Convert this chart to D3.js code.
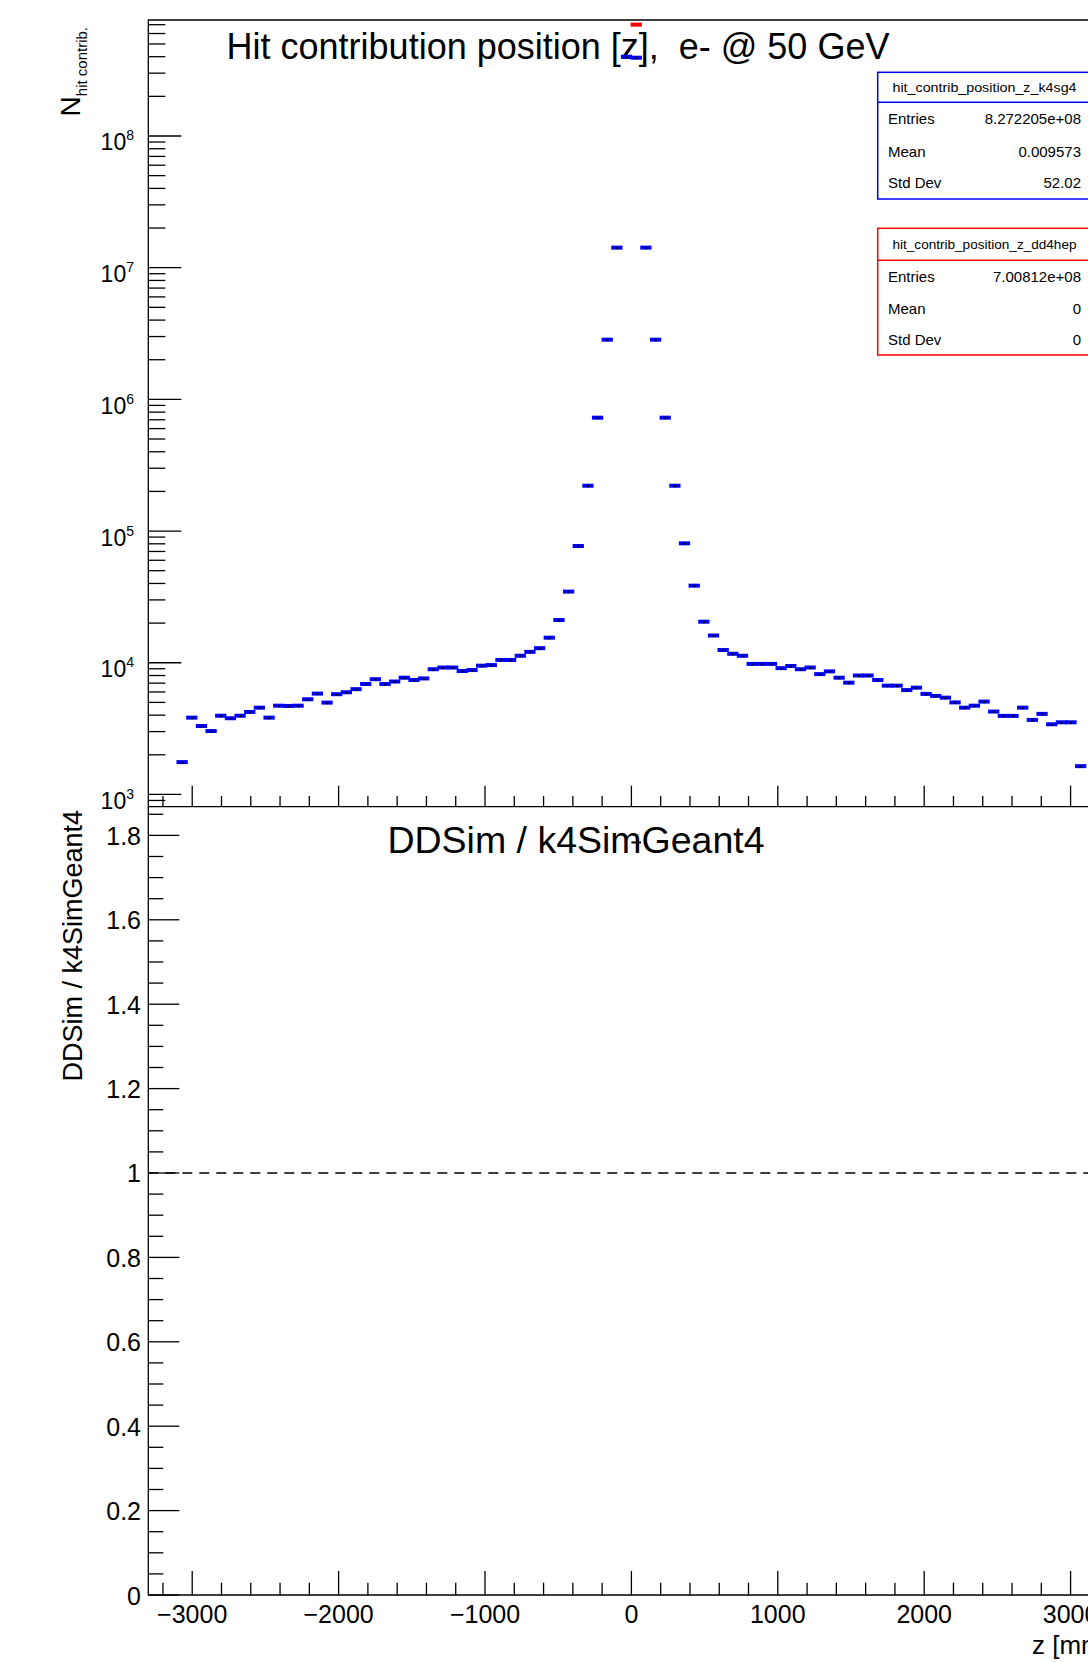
<!DOCTYPE html>
<html><head><meta charset="utf-8">
<script src="https://cdn.jsdelivr.net/npm/d3@7/dist/d3.min.js"></script>
<style>
body{margin:0;background:#fff;}
svg{display:block;}
text{font-family:"Liberation Sans",Arial,Helvetica,sans-serif;fill:#000;white-space:pre;}
</style>
</head><body>
<svg id="c" width="1088" height="1662"></svg>
<script>
// ---------- data ----------
const nBins = 100, zMin = -3300, zMax = 3300;
// k4SimGeant4 histogram contents, bin by bin (null = empty bin)
const k4sg4Counts = [
  null, null, null, 1760, 3830, 3310, 3030, 3960, 3790, 3960,
  4230, 4560, 3830, 4720, 4700, 4720, 5280, 5830, 4980, 5770,
  5970, 6300, 6900, 7500, 6900, 7200, 7700, 7400, 7600, 8930,
  9200, 9200, 8650, 8800, 9500, 9600, 10500, 10500, 11300, 12100,
  12900, 15500, 21100, 34700, 77000, 221000, 726000, 2840000, 14200000, 400000000,
  393000000, 14200000, 2840000, 726000, 221000, 80700, 38500, 20500, 16100, 12500,
  11700, 11300, 9800, 9800, 9800, 9100, 9450, 8930, 9200, 8200,
  8600, 7700, 7060, 8000, 8000, 7400, 6700, 6700, 6200, 6470,
  5800, 5600, 5430, 5000, 4560, 4720, 5070, 4260, 3950, 3950,
  4560, 3680, 4090, 3410, 3530, 3530, 1640, null, null, null
];
// DD4hep histogram: all entries in one bin
const dd4hepBins = [50];
const dd4hepCounts = [7.00812e8];

const xTickValues = [-3000, -2000, -1000, 0, 1000, 2000, 3000];
const logDecades = [3, 4, 5, 6, 7, 8];
const ratioTickValues = [0, 0.2, 0.4, 0.6, 0.8, 1, 1.2, 1.4, 1.6, 1.8];

const statsLabels = ["Entries", "Mean", "Std Dev"];
const k4Stats = ["8.272205e+08", "0.009573", "52.02"];
const ddStats = ["7.00812e+08", "0", "0"];
const k4Name = "hit_contrib_position_z_k4sg4";
const ddName = "hit_contrib_position_z_dd4hep";

const mainTitle = "Hit contribution position [z],  e- @ 50 GeV";
const ratioTitle = "DDSim / k4SimGeant4";
const xTitle = "z [mm]";

// ---------- layout ----------
const svg = d3.select("#c");
const L = 148.3, R = 1114.5;
const top1 = 20, bot1 = 806.7, bot2 = 1595;
const BLUE = "#0000ff", RED = "#ff0000";

const x = d3.scaleLinear().domain([zMin, zMax]).range([L, R]);
const y1 = d3.scaleLog().domain([807, 7.6e8]).range([bot1, top1]);
const y2 = d3.scaleLinear().domain([0, 1.868]).range([bot2, bot1]);
const bw = (zMax - zMin) / nBins;
const binLo = i => zMin + i * bw;

const g = svg.append("g");

// main title (drawn below the markers)
g.append("text").attr("x", 558).attr("y", 59).attr("text-anchor", "middle")
  .attr("font-size", 36).attr("xml:space", "preserve").text(mainTitle);
// ratio title
g.append("text").attr("x", 576).attr("y", 853).attr("text-anchor", "middle")
  .attr("font-size", 37.5).text(ratioTitle);

// ---------- upper pad: data ----------
const k4Data = k4sg4Counts.map((v, i) => ({i, v})).filter(d => d.v !== null && d.v > 0);
const ptsB = g.append("g");
ptsB.selectAll("rect.b").data(k4Data).enter().append("rect")
  .attr("x", d => x(binLo(d.i)) - 0.8)
  .attr("width", d => x(binLo(d.i + 1)) - x(binLo(d.i)) + 1.6)
  .attr("y", d => y1(d.v) - 2)
  .attr("height", 4)
  .attr("fill", BLUE);
ptsB.selectAll("rect.m").data(k4Data).enter().append("rect")
  .attr("x", d => x(binLo(d.i) + bw / 2) - 1)
  .attr("width", 2)
  .attr("y", d => y1(d.v) - 0.5)
  .attr("height", 2)
  .attr("fill", "#000");

const ddData = dd4hepBins.map((b, k) => ({i: b, v: dd4hepCounts[k]}));
g.append("g").selectAll("rect").data(ddData).enter().append("rect")
  .attr("x", d => x(binLo(d.i)) - 0.8)
  .attr("width", d => x(binLo(d.i + 1)) - x(binLo(d.i)) + 1.6)
  .attr("y", d => y1(d.v) - 2)
  .attr("height", 4)
  .attr("fill", RED);

// ---------- upper pad: axes ----------
const ax = g.append("g").attr("stroke", "#000").attr("stroke-width", 1.3).attr("fill", "none");
ax.append("path").attr("d", `M${L},${bot1}V${top1}H${R}`);
ax.append("line").attr("x1", L).attr("x2", R).attr("y1", bot1).attr("y2", bot1);

const yMajor = logDecades.map(d => Math.pow(10, d));
const yMinor = [];
for (let e = 2; e <= 8; e++) for (let m = 2; m <= 9; m++) {
  const v = m * Math.pow(10, e);
  if (v >= 807 && v <= 7.6e8) yMinor.push(v);
}
ax.selectAll("line.ymaj").data(yMajor).enter().append("line")
  .attr("x1", L).attr("x2", L + 33).attr("y1", d => y1(d)).attr("y2", d => y1(d));
ax.selectAll("line.ymin").data(yMinor).enter().append("line")
  .attr("x1", L).attr("x2", L + 17).attr("y1", d => y1(d)).attr("y2", d => y1(d));

const xMinor = d3.range(-3200, 3301, 200).filter(v => v % 1000 !== 0);
ax.selectAll("line.xmaj1").data(xTickValues).enter().append("line")
  .attr("x1", d => x(d)).attr("x2", d => x(d)).attr("y1", bot1).attr("y2", bot1 - 21);
ax.selectAll("line.xmin1").data(xMinor).enter().append("line")
  .attr("x1", d => x(d)).attr("x2", d => x(d)).attr("y1", bot1).attr("y2", bot1 - 10.7);

// y labels 10^n
const yl = g.append("g");
logDecades.forEach(d => {
  const t = yl.append("text").attr("x", 134).attr("y", y1(Math.pow(10, d)) + 14.5)
    .attr("text-anchor", "end").attr("font-size", 23);
  t.append("tspan").text("10");
  t.append("tspan").attr("font-size", 14).attr("dy", -10).text(String(d));
});

// y title upper
const yt = g.append("text").attr("transform", `translate(80,27) rotate(-90)`)
  .attr("text-anchor", "end").attr("font-size", 28);
yt.append("tspan").text("N");
yt.append("tspan").attr("font-size", 15).attr("dy", 7).text("hit contrib.");

// ---------- stats boxes ----------
function statsBox(y0, yDiv, y1b, color, name, vals, rows) {
  const sb = g.append("g");
  sb.append("rect").attr("x", 877.7).attr("y", y0).attr("width", 240).attr("height", y1b - y0)
    .attr("fill", "#fff").attr("stroke", color).attr("stroke-width", 1.5);
  sb.append("line").attr("x1", 877.7).attr("x2", 1117.7).attr("y1", yDiv).attr("y2", yDiv)
    .attr("stroke", color).attr("stroke-width", 1.5);
  sb.append("text").attr("x", 984.5).attr("y", (y0 + yDiv) / 2 + 4.5).attr("text-anchor", "middle")
    .attr("font-size", 12.5).attr("textLength", 184).attr("lengthAdjust", "spacingAndGlyphs").text(name);
  statsLabels.forEach((lab, k) => {
    sb.append("text").attr("x", 888).attr("y", rows[k]).attr("font-size", 15).text(lab);
    sb.append("text").attr("x", 1081).attr("y", rows[k]).attr("font-size", 15)
      .attr("text-anchor", "end").text(vals[k]);
  });
}
statsBox(72.3, 102.3, 199, BLUE, k4Name, k4Stats, [124, 156.5, 188.3]);
statsBox(228.3, 260.3, 355, RED, ddName, ddStats, [282, 314, 345]);

// ---------- lower pad ----------
const ax2 = g.append("g").attr("stroke", "#000").attr("stroke-width", 1.3).attr("fill", "none");
ax2.append("path").attr("d", `M${L},${bot1}V${bot2}H${R}`);
const rMinor = d3.range(0, 1.87, 0.05).map(v => +v.toFixed(2)).filter(v => Math.round(v * 100) % 20 !== 0);
ax2.selectAll("line.rmaj").data(ratioTickValues).enter().append("line")
  .attr("x1", L).attr("x2", L + 31).attr("y1", d => y2(d)).attr("y2", d => y2(d));
ax2.selectAll("line.rmin").data(rMinor).enter().append("line")
  .attr("x1", L).attr("x2", L + 15).attr("y1", d => y2(d)).attr("y2", d => y2(d));
ax2.selectAll("line.xmaj2").data(xTickValues).enter().append("line")
  .attr("x1", d => x(d)).attr("x2", d => x(d)).attr("y1", bot2).attr("y2", bot2 - 24);
ax2.selectAll("line.xmin2").data(xMinor).enter().append("line")
  .attr("x1", d => x(d)).attr("x2", d => x(d)).attr("y1", bot2).attr("y2", bot2 - 12.3);

g.append("line").attr("x1", L).attr("x2", R).attr("y1", y2(1)).attr("y2", y2(1))
  .attr("stroke", "#000").attr("stroke-width", 1.3).attr("stroke-dasharray", "10,7");

// ratio points (DD4hep / k4sg4)
const ratioData = dd4hepBins.map((b, k) => ({i: b, r: dd4hepCounts[k] / k4sg4Counts[b]}));
g.append("g").selectAll("rect").data(ratioData).enter().append("rect")
  .attr("x", d => x(binLo(d.i)))
  .attr("width", d => x(binLo(d.i + 1)) - x(binLo(d.i)))
  .attr("y", d => y2(d.r) - 1)
  .attr("height", 2)
  .attr("fill", "#000");

const fmtR = d => (d === 0 ? "0" : d === 1 ? "1" : d.toFixed(1));
g.append("g").selectAll("text").data(ratioTickValues).enter().append("text")
  .attr("x", 141).attr("y", d => y2(d) + 9.5).attr("text-anchor", "end")
  .attr("font-size", 25).text(fmtR);
g.append("g").selectAll("text").data(xTickValues).enter().append("text")
  .attr("x", d => x(d)).attr("y", 1623).attr("text-anchor", "middle")
  .attr("font-size", 25).text(d => (d < 0 ? "\u2212" + Math.abs(d) : String(d)));

g.append("text").attr("transform", `translate(82,810) rotate(-90)`)
  .attr("text-anchor", "end").attr("font-size", 27).text(ratioTitle);
g.append("text").attr("x", 1110).attr("y", 1654).attr("text-anchor", "end")
  .attr("font-size", 26).text(xTitle);
</script>
</body></html>
